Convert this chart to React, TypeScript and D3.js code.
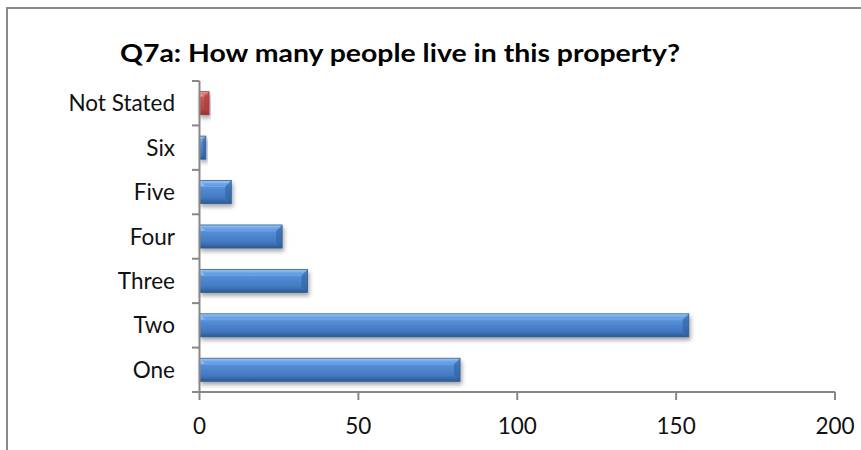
import React from "react";
import * as d3 from "d3";

const categories = ["Not Stated", "Six", "Five", "Four", "Three", "Two", "One"];
const values = [3, 2, 10, 26, 34, 154, 82];
const xTicks = [0, 50, 100, 150, 200];
const title = "Q7a: How many people live in this property?";

const W = 861, H = 450;
const FONT = "Lato, 'Open Sans', sans-serif";

export default function App() {
  const x = d3.scaleLinear().domain([0, 200]).range([199.5, 835]);
  const y = d3.scaleBand<string>().domain(categories).range([81, 392]).paddingInner(0.48).paddingOuter(0.24);
  const step = y.step();
  const boundaries = d3.range(categories.length + 1).map((i) => 81 + i * step);
  const axisColor = "#878787";

  return (
    <svg width={W} height={H} style={{ position: "absolute", left: 0, top: 0, background: "#fff" }}>
      <defs>
        <linearGradient id="gBlue" x1="0" y1="0" x2="0" y2="1">
          <stop offset="0" stopColor="#a3caf5" />
          <stop offset="0.12" stopColor="#72a9ea" />
          <stop offset="0.3" stopColor="#558ed8" />
          <stop offset="0.75" stopColor="#4279c0" />
          <stop offset="1" stopColor="#2c5992" />
        </linearGradient>
        <linearGradient id="gRed" x1="0" y1="0" x2="0" y2="1">
          <stop offset="0" stopColor="#f0a09e" />
          <stop offset="0.12" stopColor="#dc6e6b" />
          <stop offset="0.3" stopColor="#c9534f" />
          <stop offset="0.75" stopColor="#b84744" />
          <stop offset="1" stopColor="#8e302e" />
        </linearGradient>
        <filter id="shadow" x="-20%" y="-30%" width="140%" height="180%">
          <feDropShadow dx="1.5" dy="3" stdDeviation="2" floodColor="#000" floodOpacity="0.35" />
        </filter>
      </defs>
      <rect x={7} y={8} width={W} height={H} fill="#fff" stroke="#8a8a8a" strokeWidth={2} />
      <text x={400} y={62} textAnchor="middle" fontFamily={FONT} fontWeight="bold" fontSize={24} fill="#000"
        textLength={560} lengthAdjust="spacingAndGlyphs">{title}</text>

      {categories.map((c, i) => {
        const x0 = x(0);
        const x1 = x(values[i]);
        const by = y(c)!;
        const bh = y.bandwidth();
        const red = c === "Not Stated";
        const bev = Math.min(6, (x1 - x0) / 2);
        return (
          <g key={c}>
            <rect x={x0} y={by} width={x1 - x0} height={bh} fill={red ? "url(#gRed)" : "url(#gBlue)"}
              stroke={red ? "#9a3b39" : "#2f5d96"} strokeWidth={0.8} filter="url(#shadow)" />
            <polygon points={`${x1},${by} ${x1 - bev},${by + bev} ${x1 - bev},${by + bh - bev} ${x1},${by + bh}`}
              fill={red ? "#a33f3c" : "#31609e"} opacity={0.6} />
            <polygon points={`${x0},${by} ${x0 + bev},${by + bev} ${x0},${by + bev}`} fill={red ? "#f3b0ae" : "#a9cdf5"} opacity={0.6} />
            <line x1={x0 + bev} x2={x1 - bev} y1={by + bev} y2={by + bev} stroke={red ? "#e88d8a" : "#7fb0ea"} strokeWidth={1} opacity={0.6} />
          </g>
        );
      })}

      {/* y axis */}
      <line x1={x(0)} x2={x(0)} y1={81} y2={392} stroke={axisColor} strokeWidth={2} />
      {boundaries.map((b, i) => (
        <line key={i} x1={192} x2={x(0)} y1={b} y2={b} stroke={axisColor} strokeWidth={2} />
      ))}
      {categories.map((c) => (
        <text key={c} x={175} y={y(c)! + y.bandwidth() / 2 + 8} textAnchor="end" fontFamily={FONT} fontSize={22.5} fill="#111">{c}</text>
      ))}

      {/* x axis */}
      <line x1={x(0)} x2={x(200)} y1={392} y2={392} stroke={axisColor} strokeWidth={2} />
      {xTicks.map((t) => (
        <g key={t}>
          <line x1={x(t)} x2={x(t)} y1={392} y2={400} stroke={axisColor} strokeWidth={2} />
          <text x={x(t)} y={434} textAnchor="middle" fontFamily={FONT} fontSize={22.5} fill="#111">{t}</text>
        </g>
      ))}
    </svg>
  );
}
